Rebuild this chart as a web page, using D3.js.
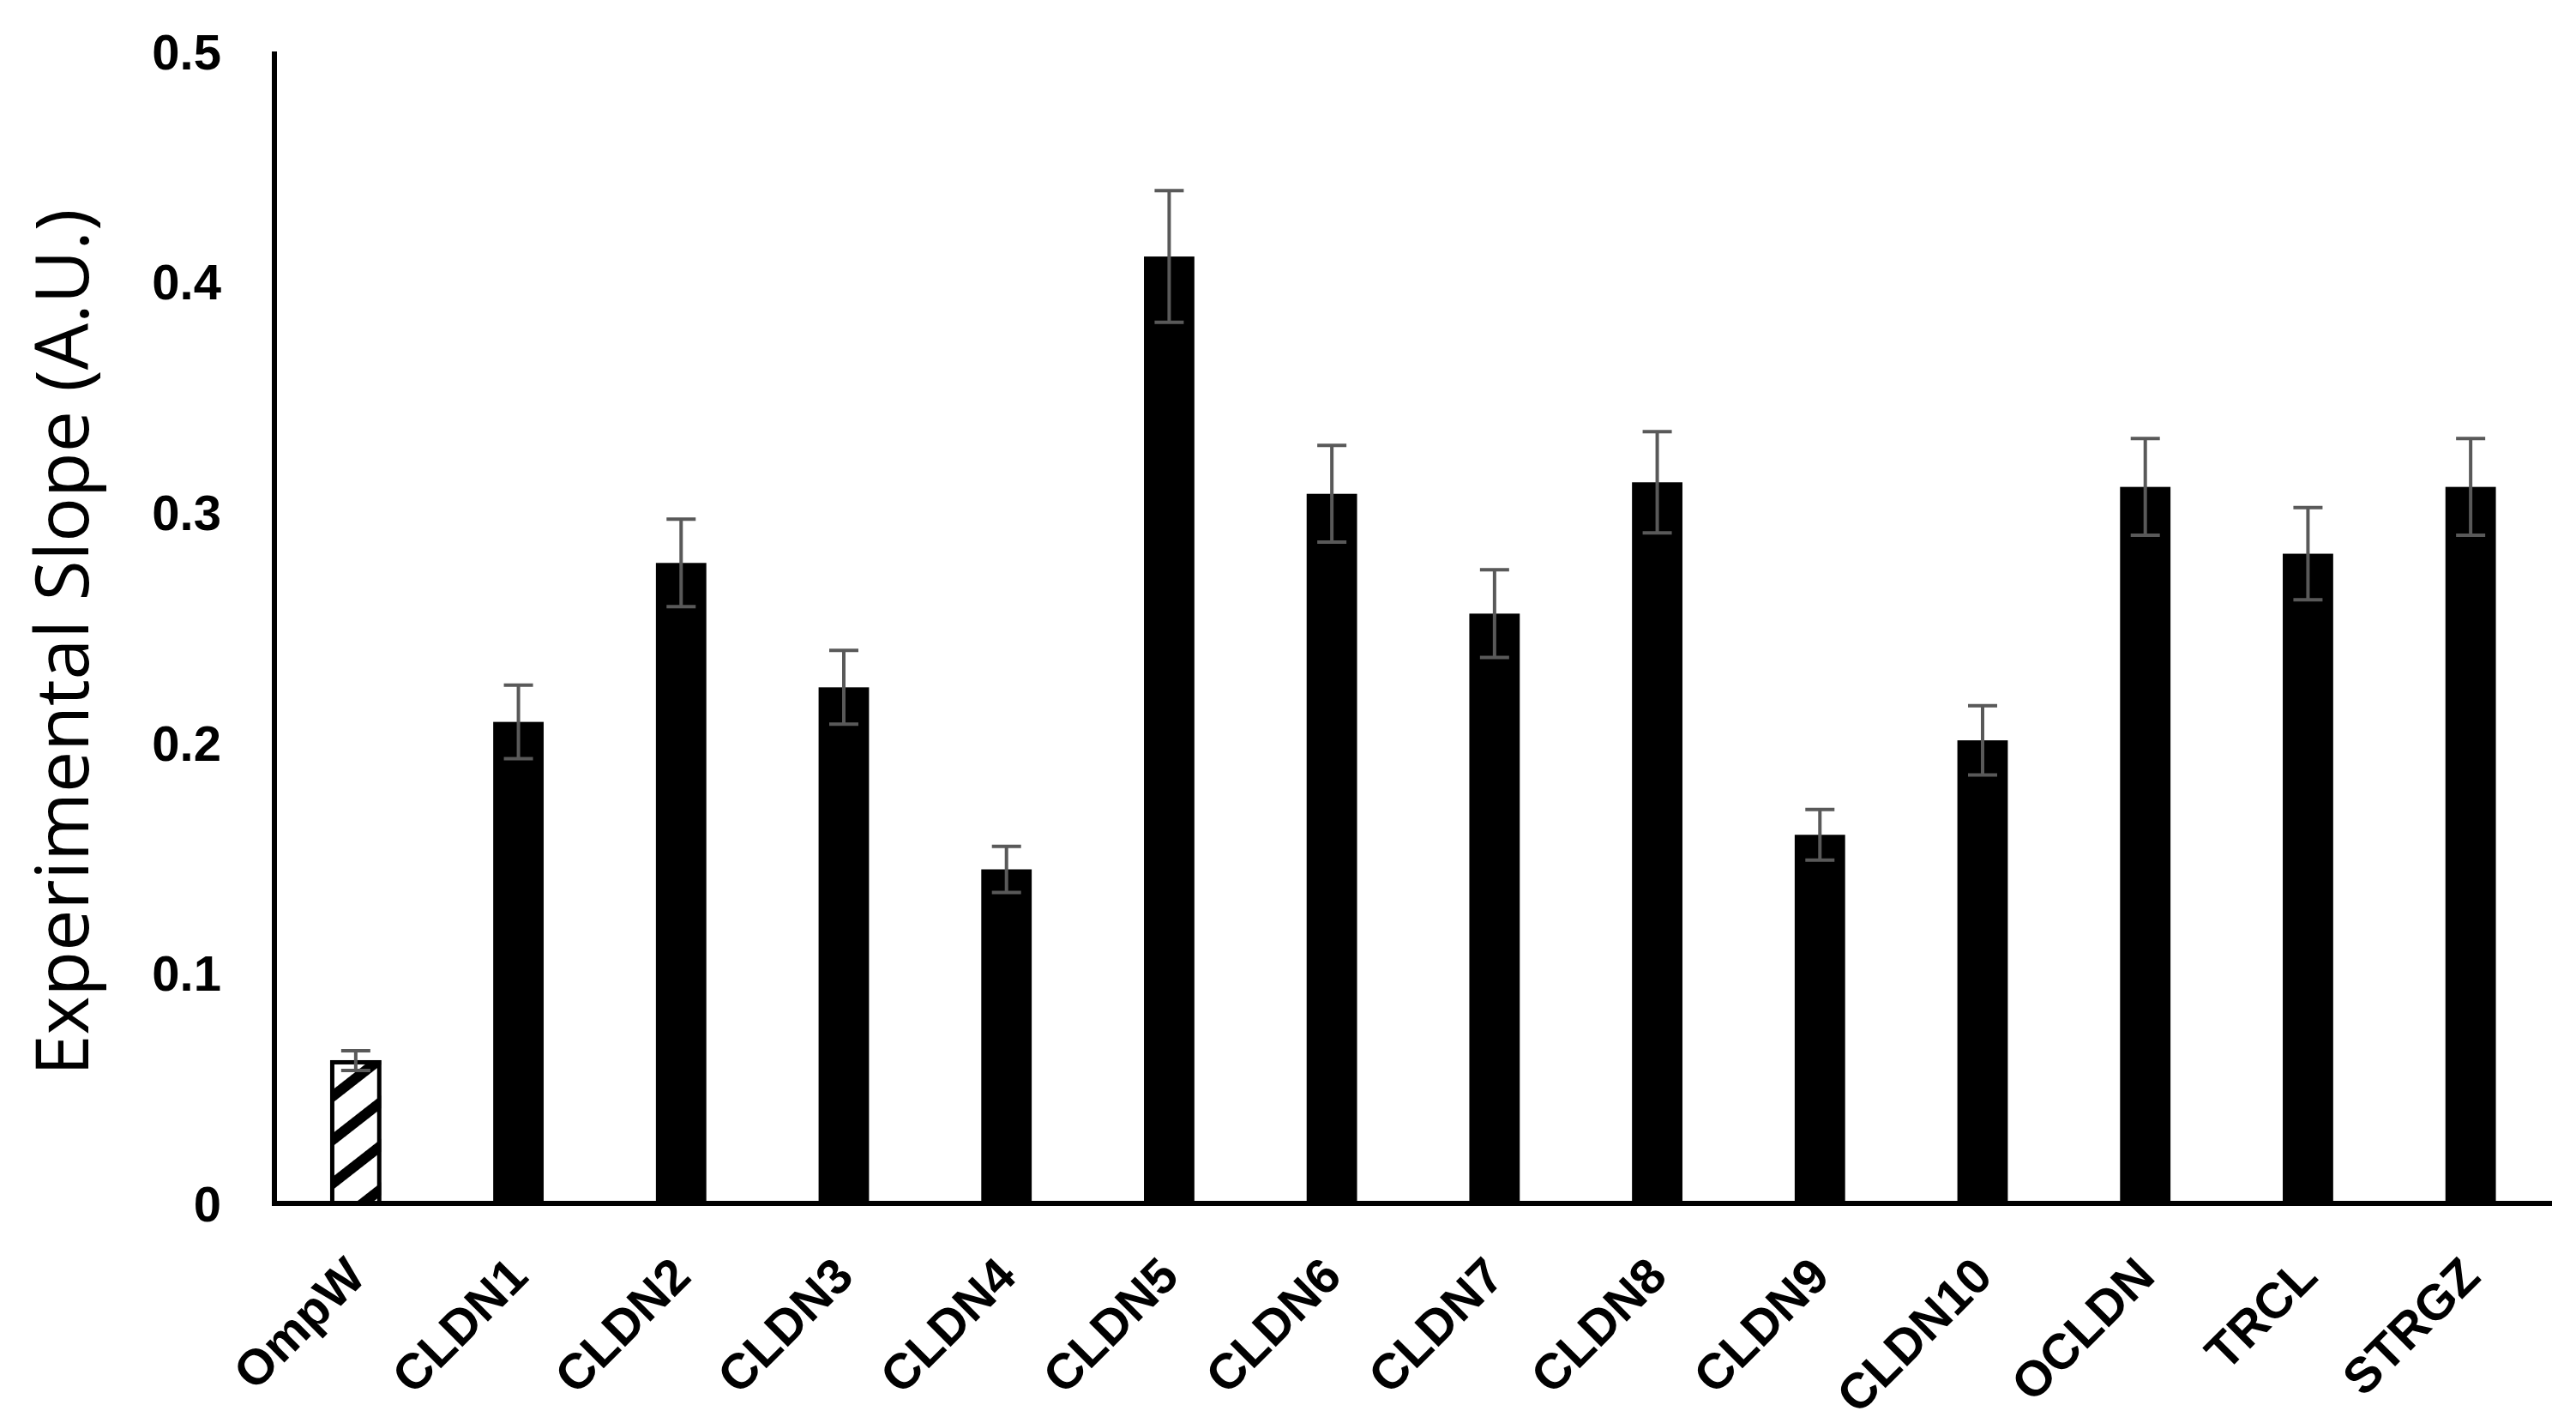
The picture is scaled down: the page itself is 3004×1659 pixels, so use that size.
<!DOCTYPE html>
<html>
<head>
<meta charset="utf-8">
<script src="https://cdn.jsdelivr.net/npm/d3@7"></script>
<style>
  body { margin: 0; background: #fff; }
  .tick-label { font-family: "Liberation Sans", Arial, sans-serif; font-weight: bold; font-size: 58px; fill: #000; }
  .y-title { font-family: "Open Sans", sans-serif; font-size: 86px; fill: #000; }
</style>
</head>
<body>
<script>
const width = 3004;
const height = 1659;

// data
const categories = ['OmpW', 'CLDN1', 'CLDN2', 'CLDN3', 'CLDN4', 'CLDN5', 'CLDN6', 'CLDN7', 'CLDN8', 'CLDN9', 'CLDN10', 'OCLDN', 'TRCL', 'STRGZ'];
const slopes = [0.062, 0.209, 0.278, 0.224, 0.145, 0.411, 0.308, 0.256, 0.313, 0.160, 0.201, 0.311, 0.282, 0.311];
const errors = [0.0043, 0.016, 0.019, 0.016, 0.010, 0.0286, 0.021, 0.019, 0.022, 0.011, 0.015, 0.021, 0.020, 0.021];
const yTicks = [0, 0.1, 0.2, 0.3, 0.4, 0.5];
const yTickLabels = ['0', '0.1', '0.2', '0.3', '0.4', '0.5'];

const data = categories.map((c, i) => ({ name: c, value: slopes[i], err: errors[i] }));

const svg = d3.select('body')
    .append('svg')
    .attr('width', width)
    .attr('height', height);

// hatch for the control bar
svg.append('defs')
    .append('pattern')
        .attr('id', 'hatch')
        .attr('patternUnits', 'userSpaceOnUse')
        .attr('width', 40)
        .attr('height', 40)
        .attr('patternTransform', 'rotate(-38)')
    .append('rect')
        .attr('x', 0)
        .attr('y', 0)
        .attr('width', 40)
        .attr('height', 12)
        .attr('fill', '#000');

const x = d3.scaleBand()
    .domain(categories)
    .range([320, 2976])
    .paddingInner(0.69)
    .paddingOuter(0.345);

const y = d3.scaleLinear()
    .domain([0, 0.5])
    .range([1403, 60]);

// white base for hatched bar
svg.append('rect')
    .attr('x', x(categories[0]))
    .attr('y', y(slopes[0]))
    .attr('width', x.bandwidth())
    .attr('height', y(0) - y(slopes[0]))
    .attr('fill', '#fff');

// bars
svg.selectAll('rect.bar')
    .data(data)
    .enter()
    .append('rect')
        .attr('class', 'bar')
        .attr('x', d => x(d.name))
        .attr('y', d => y(d.value))
        .attr('width', x.bandwidth())
        .attr('height', d => y(0) - y(d.value))
        .attr('fill', (d, i) => i === 0 ? 'url(#hatch)' : '#000');

// outline of hatched bar
svg.append('rect')
    .attr('x', x(categories[0]) + 2)
    .attr('y', y(slopes[0]) + 2)
    .attr('width', x.bandwidth() - 4)
    .attr('height', y(0) - y(slopes[0]) - 2)
    .attr('fill', 'none')
    .attr('stroke', '#000')
    .attr('stroke-width', 5);

// error bars
const errG = svg.append('g')
    .attr('stroke', '#595959')
    .attr('stroke-width', 4)
    .attr('fill', 'none');

const cx = d => x(d.name) + x.bandwidth() / 2;
const cap = 17;

errG.selectAll('path')
    .data(data)
    .enter()
    .append('path')
        .attr('d', d => {
            const top = y(d.value + d.err), bot = y(d.value - d.err);
            return `M${cx(d)},${top}V${bot}`
                + `M${cx(d) - cap},${top}H${cx(d) + cap}`
                + `M${cx(d) - cap},${bot}H${cx(d) + cap}`;
        });

// axes
svg.append('line')
    .attr('x1', 320).attr('x2', 320)
    .attr('y1', y(0.5)).attr('y2', y(0) + 3)
    .attr('stroke', '#000')
    .attr('stroke-width', 6);

svg.append('line')
    .attr('x1', 317).attr('x2', 2976)
    .attr('y1', y(0)).attr('y2', y(0))
    .attr('stroke', '#000')
    .attr('stroke-width', 6);

svg.append('g')
    .selectAll('text')
    .data(yTicks)
    .enter()
    .append('text')
        .attr('class', 'tick-label')
        .attr('x', 258)
        .attr('y', d => y(d))
        .attr('dy', '0.36em')
        .attr('text-anchor', 'end')
        .text((d, i) => yTickLabels[i]);

svg.append('g')
    .selectAll('text')
    .data(categories)
    .enter()
    .append('text')
        .attr('class', 'tick-label')
        .attr('text-anchor', 'end')
        .attr('transform', d => `translate(${x(d) + x.bandwidth() / 2 + 14}, ${y(0) + 88}) rotate(-45)`)
        .text(d => d);

svg.append('text')
    .attr('class', 'y-title')
    .attr('text-anchor', 'middle')
    .attr('transform', 'translate(103, 749) rotate(-90)')
    .text('Experimental Slope (A.U.)');
</script>
</body>
</html>
